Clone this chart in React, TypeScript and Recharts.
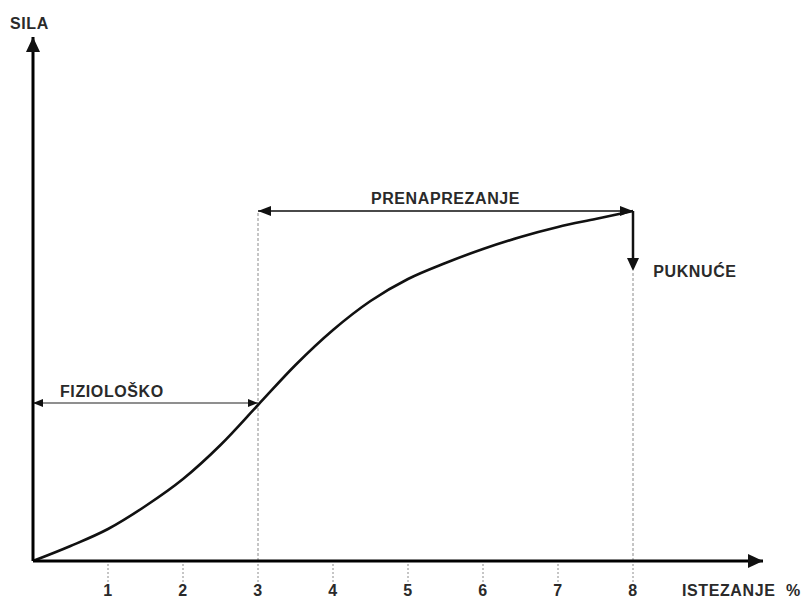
import {
  Line,
  LineChart,
  ReferenceDot,
  ReferenceLine,
  XAxis,
  YAxis,
} from 'recharts';

// strain (%) vs force
const strain = [0, 0.5, 1, 1.5, 2, 2.5, 3, 3.5, 4, 4.5, 5, 5.5, 6, 6.5, 7, 7.5, 8];
const force = [0, 15, 32, 55, 82, 116, 156, 196, 231, 260, 282, 298, 312, 324, 334, 342, 350];
const xTicks = [1, 2, 3, 4, 5, 6, 7, 8];

// marker levels
const physioEnd = 3;
const ruptureAt = 8;
const physioLevel = 158;
const overloadLevel = 350;
const ruptureDrop = 290;

const data = strain.map((x, i) => ({ x, force: force[i] }));

const FONT = '"Liberation Sans", Arial, sans-serif';
const textStyle = {
  fontFamily: FONT,
  fontWeight: 700,
  fontSize: 16,
  letterSpacing: 0.6,
  fill: '#2a2a2a',
};

type Dir = 'up' | 'down' | 'left' | 'right';

const arrowHead = (dir: Dir, len: number, half: number, color = '#111') => (props: any) => {
  const { cx, cy } = props;
  let pts = '';
  if (dir === 'up') pts = `${cx},${cy} ${cx - half},${cy + len} ${cx + half},${cy + len}`;
  if (dir === 'down') pts = `${cx},${cy} ${cx - half},${cy - len} ${cx + half},${cy - len}`;
  if (dir === 'left') pts = `${cx},${cy} ${cx + len},${cy - half} ${cx + len},${cy + half}`;
  if (dir === 'right') pts = `${cx},${cy} ${cx - len},${cy - half} ${cx - len},${cy + half}`;
  return <polygon points={pts} fill={color} />;
};

const textMark = (value: string, anchor: 'start' | 'middle' = 'start') => (props: any) => (
  <text x={props.cx} y={props.cy} textAnchor={anchor} style={textStyle}>
    {value}
  </text>
);

const StrainTick = ({ x, y, payload }: any) => (
  <g>
    <line x1={x} x2={x} y1={y + 3} y2={y + 21} stroke="#8c8c8c" strokeDasharray="2 2" />
    <text x={x} y={y + 35} textAnchor="middle" style={textStyle}>
      {payload.value}
    </text>
  </g>
);

const App = () => (
  <div style={{ position: 'absolute', left: 0, top: 0, width: 805, height: 600, background: '#fff' }}>
    <LineChart
      width={805}
      height={600}
      data={data}
      margin={{ top: 37, right: 42, left: 0, bottom: 0 }}
    >
      <XAxis
        type="number"
        dataKey="x"
        domain={[0, 730 / 75]}
        ticks={xTicks}
        allowDataOverflow
        height={39}
        tickSize={0}
        tickMargin={0}
        tickLine={false}
        axisLine={{ stroke: '#000', strokeWidth: 3 }}
        tick={<StrainTick />}
      />
      <YAxis
        type="number"
        domain={[0, 524]}
        allowDataOverflow
        width={33}
        tick={false}
        tickLine={false}
        axisLine={{ stroke: '#000', strokeWidth: 3 }}
      />

      {/* dashed guides */}
      <ReferenceLine
        segment={[{ x: physioEnd, y: 0 }, { x: physioEnd, y: overloadLevel }]}
        stroke="#8c8c8c"
        strokeDasharray="3 2"
      />
      <ReferenceLine
        segment={[{ x: ruptureAt, y: 0 }, { x: ruptureAt, y: ruptureDrop }]}
        stroke="#8c8c8c"
        strokeDasharray="3 2"
      />

      {/* range arrows */}
      <ReferenceLine
        segment={[{ x: 0, y: physioLevel }, { x: physioEnd, y: physioLevel }]}
        stroke="#6a6a6a"
        strokeWidth={1.5}
      />
      <ReferenceLine
        segment={[{ x: physioEnd, y: overloadLevel }, { x: ruptureAt, y: overloadLevel }]}
        stroke="#4a4a4a"
        strokeWidth={1.8}
      />
      <ReferenceLine
        segment={[{ x: ruptureAt, y: overloadLevel }, { x: ruptureAt, y: ruptureDrop + 8 }]}
        stroke="#111"
        strokeWidth={2.5}
      />

      <Line
        type="monotone"
        dataKey="force"
        stroke="#111"
        strokeWidth={2.6}
        dot={false}
        activeDot={false}
        isAnimationActive={false}
      />

      {/* arrow heads */}
      <ReferenceDot x={0} y={524} r={0} shape={arrowHead('up', 15, 7)} />
      <ReferenceDot x={730 / 75} y={0} r={0} shape={arrowHead('right', 15, 7)} />
      <ReferenceDot x={0} y={physioLevel} r={0} shape={arrowHead('left', 10, 4)} />
      <ReferenceDot x={physioEnd} y={physioLevel} r={0} shape={arrowHead('right', 10, 4)} />
      <ReferenceDot x={physioEnd} y={overloadLevel} r={0} shape={arrowHead('left', 13, 5)} />
      <ReferenceDot x={ruptureAt} y={overloadLevel} r={0} shape={arrowHead('right', 13, 5)} />
      <ReferenceDot x={ruptureAt} y={ruptureDrop} r={0} shape={arrowHead('down', 13, 6)} />

      {/* region labels */}
      <ReferenceDot x={0.36} y={164} r={0} shape={textMark('FIZIOLOŠKO')} />
      <ReferenceDot x={5.5} y={357} r={0} shape={textMark('PRENAPREZANJE', 'middle')} />
      <ReferenceDot x={8.27} y={284} r={0} shape={textMark('PUKNUĆE')} />
    </LineChart>

    <svg width={805} height={600} style={{ position: 'absolute', left: 0, top: 0, pointerEvents: 'none' }}>
      <text x={10} y={29} style={textStyle}>SILA</text>
      <text x={682} y={596} style={textStyle}>ISTEZANJE</text>
      <text x={786} y={596} style={textStyle}>%</text>
    </svg>
  </div>
);

export default App;
